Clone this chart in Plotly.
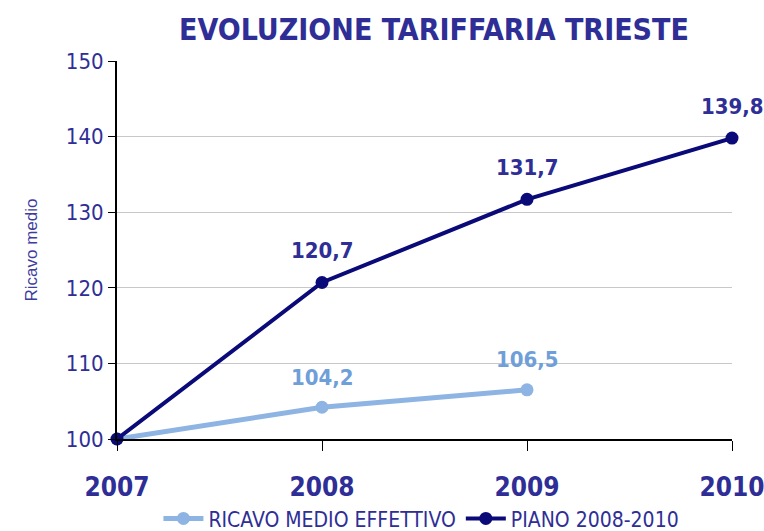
import plotly.graph_objects as go

years = [2007, 2008, 2009, 2010]
ricavo_effettivo = [100, 104.2, 106.5]
piano = [100, 120.7, 131.7, 139.8]
labels_effettivo = ['', '104,2', '106,5']
labels_piano = ['', '120,7', '131,7', '139,8']

NARROW = 'DejaVu Sans Condensed, Liberation Sans Narrow, Roboto, sans-serif'
TXT = '#2e2e96'
LIGHT = '#8db4e2'
DARK = '#0a0a78'


def nfont(size, color=TXT, bold=False):
    return dict(family=NARROW, size=size, color=color,
                weight='bold' if bold else 'normal')


fig = go.Figure()
fig.add_trace(go.Scatter(
    x=years[:3], y=ricavo_effettivo, name='RICAVO MEDIO EFFETTIVO',
    mode='lines+markers', line=dict(color=LIGHT, width=5),
    marker=dict(size=13, color=LIGHT), cliponaxis=False
))
fig.add_trace(go.Scatter(
    x=years, y=piano, name='PIANO 2008-2010',
    mode='lines+markers', line=dict(color=DARK, width=4),
    marker=dict(size=13, color=DARK), cliponaxis=False
))

# value labels above the points
for xs, ys, labels, col, shift in [(years, ricavo_effettivo, labels_effettivo, '#6f9fd8', 30),
                                   (years, piano, labels_piano, TXT, 32)]:
    for x, y, t in zip(xs, ys, labels):
        if t:
            fig.add_annotation(x=x, y=y, text=t, showarrow=False, yshift=shift,
                               font=nfont(22, col, True))

fig.update_layout(
    width=764, height=531,
    plot_bgcolor='white', paper_bgcolor='white',
    margin=dict(l=117, r=32, t=61, b=92),
    title=dict(text='<b>EVOLUZIONE TARIFFARIA TRIESTE</b>', x=0.568, y=0.945,
               xanchor='center', yanchor='middle', font=nfont(30)),
    showlegend=True,
    legend=dict(orientation='h', x=0.495, xanchor='center', yref='container',
                y=0.023, yanchor='middle', font=nfont(21), itemwidth=40,
                bgcolor='rgba(0,0,0,0)'),
    xaxis=dict(range=[2007, 2010], tickvals=years, showgrid=False, automargin=False,
               showline=True, linecolor='black', linewidth=2,
               ticks='outside', ticklen=10, tickcolor='black', tickwidth=1,
               ticklabelstandoff=14, ticklabeloverflow='allow',
               tickfont=nfont(26, TXT, True)),
    yaxis=dict(range=[100, 150], dtick=10, showgrid=True, gridcolor='#c8c8c8',
               automargin=False,
               showline=True, linecolor='black', linewidth=2,
               ticks='outside', ticklen=7, tickcolor='black',
               tickfont=nfont(22),
               title=dict(text='Ricavo medio', standoff=24,
                          font=dict(family='Liberation Sans, Arial, sans-serif', size=17, color='#3d3d9e'))),
)

fig.write_html('out.html', config={'displayModeBar': False},
               post_script="document.body.style.margin='0';")
